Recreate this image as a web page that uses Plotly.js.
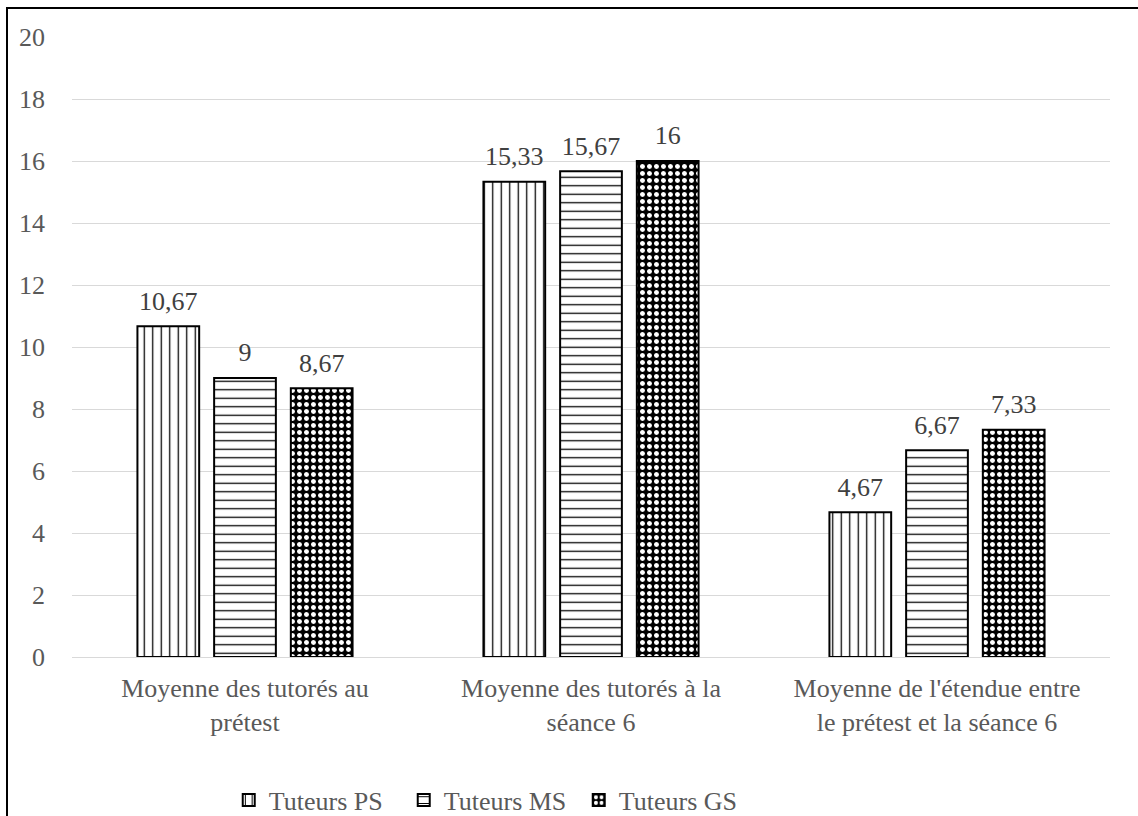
<!DOCTYPE html>
<html>
<head>
<meta charset="utf-8">
<script src="https://cdn.plot.ly/plotly-3.0.1.min.js"></script>
<style>
html,body{margin:0;padding:0;background:#fff;}
#wrap{position:relative;width:1138px;height:816px;}
#chart{position:absolute;left:0;top:0;width:1138px;height:816px;}
#frame{position:absolute;left:6px;top:7px;width:1132px;height:809px;border-left:2px solid #000;border-top:2px solid #000;pointer-events:none;}
</style>
</head>
<body>
<div id="wrap"><div id="chart"></div><div id="frame"></div></div>
<script>
var categories = [
  "Moyenne des tutorés au<br>prétest",
  "Moyenne des tutorés à la<br>séance 6",
  "Moyenne de l'étendue entre<br>le prétest et la séance 6"
];
var seriesNames = ["Tuteurs PS", "Tuteurs MS", "Tuteurs GS"];
var tuteursPS = [10.67, 15.33, 4.67];
var tuteursMS = [9, 15.67, 6.67];
var tuteursGS = [8.67, 16, 7.33];
var yTicks = [0, 2, 4, 6, 8, 10, 12, 14, 16, 18, 20];

var font = "Liberation Serif, Times New Roman, serif";
var labelTpl = "<span style='font-size:26px'>%{y:.2~f}</span><br><span style='fill:rgba(0,0,0,0)'>.</span>";

function barTrace(name, values, pattern) {
  return {
    type: "bar",
    name: name,
    x: categories,
    y: values,
    marker: {
      color: "#ffffff",
      line: {color: "#000000", width: 2},
      pattern: pattern
    },
    texttemplate: labelTpl,
    textposition: "outside",
    textfont: {family: font, size: 9, color: "#404040"},
    cliponaxis: false,
    hoverinfo: "skip"
  };
}

var data = [
  barTrace(seriesNames[0], tuteursPS, {shape: "|", fgcolor: "#000", bgcolor: "#fff", size: 8.5, solidity: 0.15, fillmode: "replace"}),
  barTrace(seriesNames[1], tuteursMS, {shape: "-", fgcolor: "#000", bgcolor: "#fff", size: 8.5, solidity: 0.15, fillmode: "replace"}),
  barTrace(seriesNames[2], tuteursGS, {shape: ".", fgcolor: "#fff", bgcolor: "#000", size: 7, solidity: 0.4, fillmode: "replace"})
];

var layout = {
  width: 1138,
  height: 816,
  margin: {l: 72, r: 28, t: 37, b: 159, autoexpand: false},
  paper_bgcolor: "#ffffff",
  plot_bgcolor: "#ffffff",
  separators: ", ",
  barmode: "group",
  bargap: 0.335,
  bargroupgap: 0.195,
  font: {family: font, size: 26, color: "#595959"},
  showlegend: true,
  legend: {
    orientation: "h",
    x: 0.151, xanchor: "left",
    y: -0.231, yanchor: "middle",
    font: {family: font, size: 26, color: "#595959"},
    itemwidth: 30,
    entrywidth: 130,
    traceorder: "normal"
  },
  xaxis: {
    type: "category",
    showgrid: false,
    showline: true,
    linecolor: "#d9d9d9",
    linewidth: 1,
    ticks: "",
    tickfont: {family: font, size: 26, color: "#595959"},
    ticklabelstandoff: 8
  },
  yaxis: {
    range: [0, 20],
    tickvals: yTicks,
    showgrid: true,
    gridcolor: "#d9d9d9",
    gridwidth: 1,
    zeroline: false,
    showline: false,
    ticks: "",
    tickfont: {family: font, size: 26, color: "#595959"},
    ticklabelstandoff: 26
  }
};

Plotly.newPlot("chart", data, layout, {displayModeBar: false, staticPlot: true});
</script>
</body>
</html>
